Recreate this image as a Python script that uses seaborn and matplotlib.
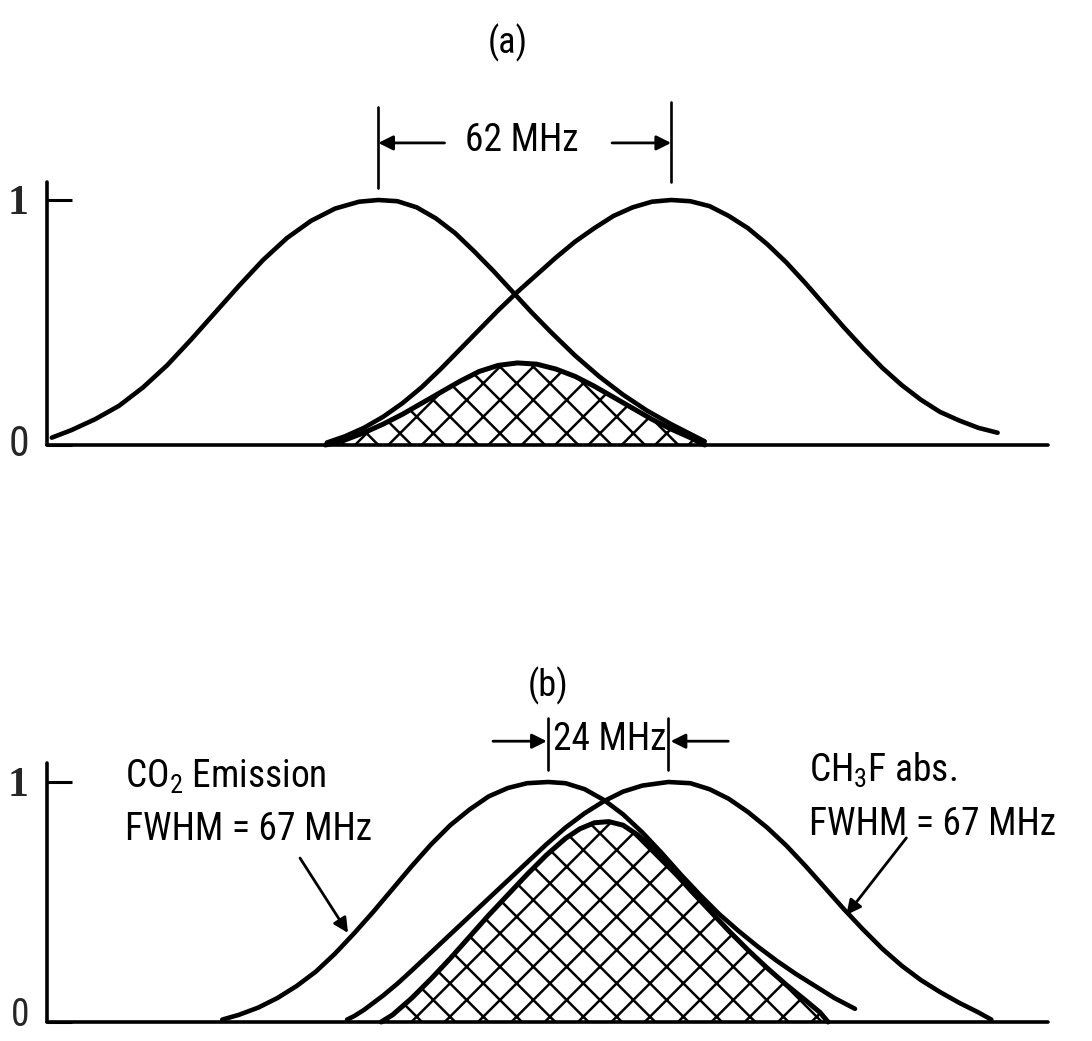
import numpy as np
import pandas as pd
import matplotlib
matplotlib.use("Agg")
import matplotlib.pyplot as plt
import seaborn as sns
from matplotlib import font_manager
from matplotlib.transforms import ScaledTranslation

# ---------------- data (frequency in MHz along the axis, normalised intensity) ----------------
# Panel (a): two lines 62 MHz apart and their overlap
a_emis_x = [1, 5, 10, 15, 20, 25, 30, 35, 40, 45, 50, 55, 60, 65, 69, 73, 77, 81, 85, 89,
            93, 97, 101, 105, 110, 115, 120, 125, 130, 134, 137]
a_emis_y = [0.03, 0.06, 0.105, 0.16, 0.235, 0.325, 0.43, 0.54, 0.65, 0.755, 0.845, 0.915,
            0.965, 0.993, 1.0, 0.995, 0.97, 0.925, 0.865, 0.79, 0.71, 0.625, 0.54, 0.46,
            0.365, 0.28, 0.205, 0.14, 0.085, 0.045, 0.015]
a_abs_x = [58.3, 62, 66, 70, 74, 78, 82, 86, 90, 94, 98, 102, 106, 110, 114, 118, 122, 126,
           130, 134, 138, 142, 146, 150, 154, 158, 162, 166, 170, 174, 178, 182, 186, 190,
           194, 198]
a_abs_y = [0.01, 0.035, 0.07, 0.115, 0.17, 0.235, 0.31, 0.39, 0.47, 0.55, 0.625, 0.695,
           0.765, 0.83, 0.885, 0.935, 0.97, 0.993, 1.0, 0.995, 0.975, 0.935, 0.885, 0.82,
           0.745, 0.66, 0.57, 0.48, 0.395, 0.315, 0.245, 0.185, 0.135, 0.1, 0.07, 0.05]
a_over_x = [58, 62, 66, 70, 74, 78, 82, 86, 90, 94, 98, 102, 106, 110, 114, 118, 122, 126,
            130, 134, 137]
a_over_y = [0.0, 0.02, 0.05, 0.085, 0.125, 0.17, 0.215, 0.26, 0.3, 0.325, 0.335, 0.33, 0.31,
            0.28, 0.24, 0.195, 0.15, 0.105, 0.065, 0.03, 0.0]
a_sep_mhz = 62

# Panel (b): two lines 24 MHz apart and their overlap
b_emis_x = [36.5, 40, 44, 48, 52, 56, 60, 64, 68, 72, 76, 80, 84, 88, 92, 96, 100, 104.4, 108,
            112, 116, 120, 124, 128, 132, 136, 140, 144, 148, 152, 156, 160, 164, 168.3]
b_emis_y = [0.01, 0.03, 0.06, 0.1, 0.15, 0.21, 0.285, 0.37, 0.46, 0.555, 0.65, 0.74, 0.82,
            0.885, 0.94, 0.975, 0.995, 1.0, 0.995, 0.97, 0.925, 0.865, 0.79, 0.705, 0.615,
            0.53, 0.45, 0.38, 0.315, 0.255, 0.2, 0.15, 0.1, 0.055]
b_abs_x = [62.5, 64, 66, 68, 70, 73, 76, 80, 84, 88, 92, 96, 100, 104, 108, 112, 116, 120, 124,
           129.4, 134, 138, 142, 146, 150, 154, 158, 162, 166, 170, 174, 178, 182, 186, 190,
           194, 196.7]
b_abs_y = [0.01, 0.025, 0.05, 0.08, 0.11, 0.16, 0.215, 0.29, 0.365, 0.44, 0.515, 0.59, 0.665,
           0.74, 0.81, 0.87, 0.92, 0.96, 0.985, 1.0, 0.995, 0.97, 0.93, 0.875, 0.81, 0.735,
           0.65, 0.56, 0.47, 0.385, 0.305, 0.235, 0.175, 0.125, 0.08, 0.04, 0.01]
b_over_x = [69.6, 72, 76, 80, 84, 88, 92, 96, 100, 104, 108, 111, 114, 117, 120, 123, 126, 130,
            134, 138, 142, 146, 150, 154, 158, 161, 162.7]
b_over_y = [0.0, 0.03, 0.1, 0.18, 0.265, 0.355, 0.445, 0.53, 0.615, 0.695, 0.765, 0.805, 0.83,
            0.835, 0.82, 0.78, 0.725, 0.64, 0.55, 0.465, 0.38, 0.3, 0.225, 0.155, 0.09, 0.04,
            0.0]
b_sep_mhz = 24
fwhm_mhz = 67

ytick_vals = [0, 1]
ytick_labels = ["0", "1"]

# ---------------- style ----------------
sns.set_theme(style="white")
names = {f.name for f in font_manager.fontManager.ttflist}
MAIN = "DejaVu Sans"
for cand in ["Liberation Sans Narrow", "Roboto Condensed", "Open Sans Condensed", "Liberation Sans"]:
    if cand in names:
        MAIN = cand
        break
plt.rcParams["font.family"] = [MAIN, "DejaVu Sans"]
plt.rcParams["mathtext.fontset"] = "custom"
plt.rcParams["mathtext.rm"] = MAIN
plt.rcParams["mathtext.it"] = MAIN
plt.rcParams["mathtext.bf"] = MAIN
plt.rcParams["hatch.linewidth"] = 1.8
plt.rcParams["hatch.color"] = "black"

LW = 3.3
TXT = 27

fig = plt.figure(figsize=(10.92, 10.41), dpi=100)
fig.patch.set_facecolor("white")

XMAX = 208.5
axA = fig.add_axes([47 / 1092, (1041 - 445) / 1041, 1001 / 1092, 263 / 1041])
axB = fig.add_axes([47 / 1092, (1041 - 1022) / 1041, 1001 / 1092, 259 / 1041])


def base_axes(ax, ytop, zero_size, zero_lift_px):
    ax.set_xlim(0, XMAX)
    ax.set_ylim(0, ytop)
    ax.set_facecolor("white")
    for s in ["top", "right"]:
        ax.spines[s].set_visible(False)
    for s in ["left", "bottom"]:
        ax.spines[s].set_color("black")
        ax.spines[s].set_linewidth(2.6)
        ax.spines[s].set_capstyle("round")
    ax.set_xticks([])
    ax.set_yticks(ytick_vals)
    ax.set_yticklabels(ytick_labels)
    ax.tick_params(axis="y", direction="in", length=18, width=2.2, color="black", pad=13,
                   left=True)
    for lab in ax.get_yticklabels():
        if lab.get_text() == "1":
            lab.set_fontfamily(["Liberation Serif", "DejaVu Serif"])
            lab.set_fontweight("bold")
            lab.set_fontsize(30)
        else:
            lab.set_fontfamily([MAIN, "DejaVu Sans"])
            lab.set_fontsize(zero_size)
            lab.set_verticalalignment("center")
            if zero_lift_px:
                lab.set_transform(lab.get_transform() +
                                  ScaledTranslation(0, zero_lift_px / 100, fig.dpi_scale_trans))
    ax.grid(False)
    ax.set_xlabel("")
    ax.set_ylabel("")


def draw_panel(ax, ex, ey, bx, by, ox, oy):
    ax.fill_between(ox, 0, oy, facecolor="white", edgecolor="black", hatch="x",
                    linewidth=0, zorder=1)
    sns.lineplot(x=ox, y=oy, ax=ax, color="black", lw=LW + 0.3, sort=False, estimator=None,
                 zorder=3, clip_on=False, solid_capstyle="round", solid_joinstyle="round")
    sns.lineplot(x=ex, y=ey, ax=ax, color="black", lw=LW, sort=False, estimator=None,
                 zorder=4, clip_on=False, solid_capstyle="round", solid_joinstyle="round")
    sns.lineplot(x=bx, y=by, ax=ax, color="black", lw=LW, sort=False, estimator=None,
                 zorder=4, clip_on=False, solid_capstyle="round", solid_joinstyle="round")


def peak(xs, ys):
    return xs[int(np.argmax(ys))]


arrow_kw = dict(arrowstyle="-|>", color="black", lw=2.0, mutation_scale=22,
                shrinkA=0, shrinkB=0)

# ---------------- panel (a) ----------------
base_axes(axA, 263 / 245, 30, 0)
draw_panel(axA, a_emis_x, a_emis_y, a_abs_x, a_abs_y, a_over_x, a_over_y)
pa1, pa2 = peak(a_emis_x, a_emis_y), peak(a_abs_x, a_abs_y)
axA.plot([pa1, pa1], [1.049, 1.38], color="black", lw=1.9, clip_on=False)
axA.plot([pa2, pa2], [1.073, 1.40], color="black", lw=1.9, clip_on=False)
axA.annotate("", xy=(pa1, 1.233), xytext=(pa1 + 13.8, 1.233), arrowprops=arrow_kw,
             annotation_clip=False)
axA.annotate("", xy=(pa2, 1.233), xytext=(pa2 - 12.3, 1.233), arrowprops=arrow_kw,
             annotation_clip=False)
axA.text((pa1 + pa2) / 2 - 0.5, 1.241, f"{a_sep_mhz} MHz", ha="center", va="center",
         fontsize=TXT, color="black")
axA.text(96.0, 1.64, "(a)", ha="center", va="center", fontsize=26, color="black")

# ---------------- panel (b) ----------------
base_axes(axB, 259 / 240, 27, 6)
draw_panel(axB, b_emis_x, b_emis_y, b_abs_x, b_abs_y, b_over_x, b_over_y)
pb1, pb2 = peak(b_emis_x, b_emis_y), peak(b_abs_x, b_abs_y)
axB.plot([pb1, pb1], [1.05, 1.265], color="black", lw=1.9, clip_on=False)
axB.plot([pb2, pb2], [1.05, 1.265], color="black", lw=1.9, clip_on=False)
axB.annotate("", xy=(pb1 - 0.3, 1.17), xytext=(pb1 - 11.5, 1.17), arrowprops=arrow_kw,
             annotation_clip=False)
axB.annotate("", xy=(pb2 + 0.5, 1.17), xytext=(pb2 + 12.5, 1.17), arrowprops=arrow_kw,
             annotation_clip=False)
axB.text((pb1 + pb2) / 2 + 0.4, 1.175, f"{b_sep_mhz} MHz", ha="center", va="center",
         fontsize=TXT, color="black")
axB.text(104.4, 1.40, "(b)", ha="center", va="center", fontsize=26, color="black")

axB.text(16.3, 0.975, r"CO$_{\mathregular{2}}$ Emission", ha="left", va="baseline",
         fontsize=TXT, color="black")
axB.text(16.3, 0.758, f"FWHM = {fwhm_mhz} MHz", ha="left", va="baseline",
         fontsize=TXT, color="black")
axB.annotate("", xy=(62.7, 0.371), xytext=(52.7, 0.683), arrowprops=arrow_kw,
             annotation_clip=False)

axB.text(158.8, 1.0, r"CH$_{\mathregular{3}}$F abs.", ha="left", va="baseline",
         fontsize=TXT, color="black")
axB.text(158.8, 0.779, f"FWHM = {fwhm_mhz} MHz", ha="left", va="baseline",
         fontsize=TXT, color="black")
axB.annotate("", xy=(166.5, 0.446), xytext=(179.0, 0.767), arrowprops=arrow_kw,
             annotation_clip=False)

fig.savefig("out.png", dpi=100, facecolor="white")
